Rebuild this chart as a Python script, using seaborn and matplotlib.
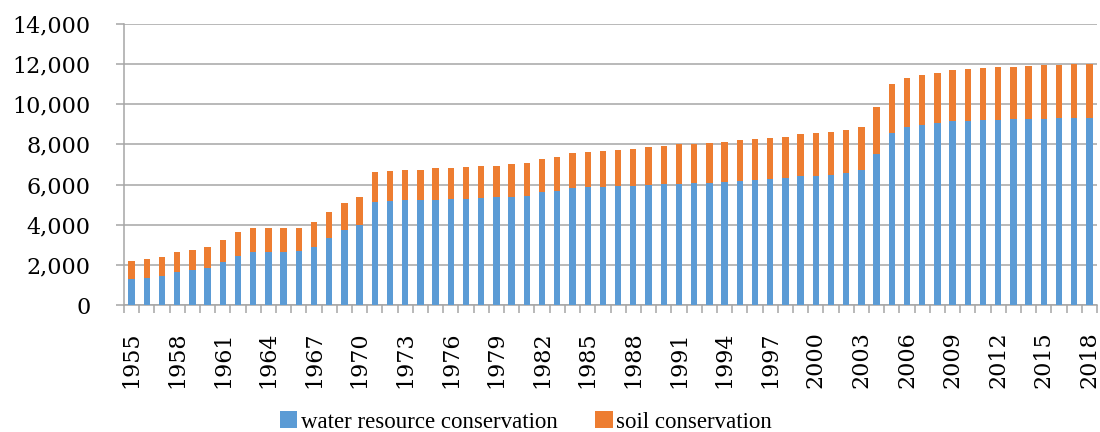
import pandas as pd
import seaborn as sns
import matplotlib.pyplot as plt
from matplotlib.patches import Patch
from matplotlib.ticker import FixedLocator, FuncFormatter

# Data
years = list(range(1955, 2019))
water = [1280, 1360, 1450, 1650, 1750, 1860, 2160, 2445, 2625, 2625,
         2660, 2675, 2875, 3360, 3723, 4010, 5140, 5190, 5220, 5240,
         5255, 5290, 5305, 5340, 5370, 5405, 5455, 5620, 5690, 5838,
         5860, 5888, 5938, 5953, 6003, 6036, 6053, 6088, 6103, 6138,
         6187, 6237, 6287, 6320, 6403, 6437, 6480, 6587, 6737, 7535,
         8548, 8862, 8962, 9047, 9147, 9162, 9197, 9232, 9247, 9262,
         9282, 9297, 9332, 9332]
total = [2210, 2295, 2375, 2625, 2760, 2894, 3258, 3623, 3822, 3842,
         3842, 3857, 4142, 4640, 5060, 5404, 6617, 6652, 6717, 6737,
         6802, 6836, 6852, 6917, 6936, 7016, 7066, 7251, 7350, 7585,
         7615, 7684, 7717, 7767, 7866, 7916, 8000, 8034, 8050, 8116,
         8200, 8250, 8316, 8366, 8500, 8550, 8600, 8716, 8883, 9845,
         11008, 11327, 11457, 11577, 11692, 11742, 11791, 11841, 11857, 11907,
         11941, 11976, 11991, 12007]
series = ['water resource conservation', 'soil conservation']

df = pd.DataFrame({'year': [str(y) for y in years], 'water': water, 'total': total})

blue = '#5B9BD5'
orange = '#ED7D31'
grey = '#A6A6A6'

fig = plt.figure(figsize=(11, 4.32), dpi=100)
ax = fig.add_axes([124 / 1100, 1 - 305 / 432, (1097 - 124) / 1100, (305 - 24) / 432])

# stacked bars: total (orange) behind, water (blue) in front
sns.barplot(data=df, x='year', y='total', color=orange, saturation=1, width=0.42,
            errorbar=None, ax=ax, zorder=2)
sns.barplot(data=df, x='year', y='water', color=blue, saturation=1, width=0.42,
            errorbar=None, ax=ax, zorder=3)

ax.set_xlim(-0.5, len(years) - 0.5)
ax.set_ylim(0, 14000)
ax.set_xlabel('')
ax.set_ylabel('')

# gridlines and spines
ax.set_yticks(range(0, 14001, 2000))
ax.yaxis.set_major_formatter(FuncFormatter(lambda v, p: f'{int(v):,}'))
ax.grid(axis='y', color=grey, linewidth=1.1, zorder=0)
ax.set_axisbelow(True)
for side in ['top', 'right']:
    ax.spines[side].set_visible(False)
for side in ['left', 'bottom']:
    ax.spines[side].set_color(grey)
    ax.spines[side].set_linewidth(1.1)

# x ticks: labels every 3rd year, tick marks at category boundaries
label_pos = list(range(0, len(years), 3))
ax.set_xticks(label_pos)
ax.set_xticklabels([str(years[i]) for i in label_pos], rotation=90,
                   family='DejaVu Serif', fontsize=16)
ax.xaxis.set_minor_locator(FixedLocator([i - 0.5 for i in range(len(years) + 1)]))
ax.tick_params(axis='x', which='major', length=0, pad=19)
ax.tick_params(axis='x', which='minor', length=6, width=1.1, color=grey)
ax.tick_params(axis='y', length=6, width=1.1, color=grey, pad=18, labelsize=16)
for lbl in ax.get_yticklabels():
    lbl.set_family('DejaVu Serif')

handles = [Patch(facecolor=blue, edgecolor='none'), Patch(facecolor=orange, edgecolor='none')]
fig.legend(handles, series, loc='center', bbox_to_anchor=(526 / 1100, 1 - 422 / 432),
           ncol=2, frameon=False, prop={'family': 'Liberation Serif', 'size': 16.5},
           handlelength=0.75, handleheight=0.75, handletextpad=0.15, columnspacing=1.65)

fig.savefig('out.png', dpi=100)
